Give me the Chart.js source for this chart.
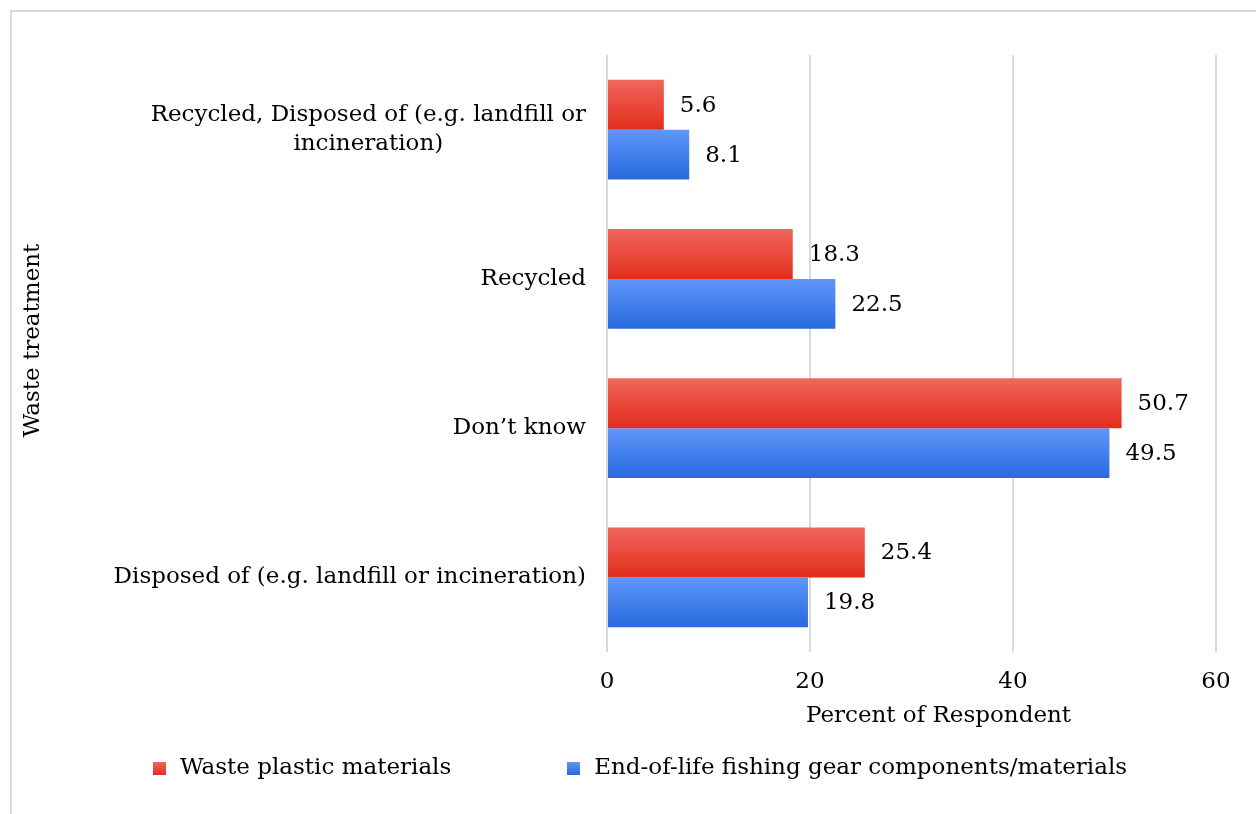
<!DOCTYPE html>
<html>
<head>
<meta charset="utf-8">
<script src="https://cdn.jsdelivr.net/npm/chart.js@4"></script>
<style>
  html, body { margin: 0; padding: 0; background: #ffffff; }
  #wrap { width: 1256px; height: 814px; position: relative; }
</style>
</head>
<body>
<div id="wrap"><canvas id="c" width="1256" height="814"></canvas></div>
<script>
// Survey categories (top to bottom) and the two series
const categories = [
  ["Recycled, Disposed of (e.g. landfill or", "incineration)"],
  ["Recycled"],
  ["Don\u2019t know"],
  ["Disposed of (e.g. landfill or incineration)"]
];
const seriesNames = ["Waste plastic materials", "End-of-life fishing gear components/materials"];
const wastePlastic = [5.6, 18.3, 50.7, 25.4];
const fishingGear = [8.1, 22.5, 49.5, 19.8];
const xTicks = [0, 20, 40, 60];
const xTitle = "Percent of Respondent";
const yTitle = "Waste treatment";

const FAMILY = '"DejaVu Serif", "Liberation Serif", serif';
const FONT_SIZE = 23;
const FONT = FONT_SIZE + 'px ' + FAMILY;
const TEXT = '#000000';
const GRID = '#d9d9d9';
const RED = ['#f0675d', '#e22d1c'];
const BLUE = ['#6096fa', '#276ade'];

function swatch(cols) {
  const cv = document.createElement('canvas');
  cv.width = 13; cv.height = 13;
  const g = cv.getContext('2d');
  const gr = g.createLinearGradient(0, 0, 0, 13);
  gr.addColorStop(0, cols[0]); gr.addColorStop(1, cols[1]);
  g.fillStyle = gr; g.fillRect(0, 0, 13, 13);
  return cv;
}

const decor = {
  id: 'decor',
  beforeDraw(chart) {
    const ctx = chart.ctx;
    ctx.save();
    ctx.strokeStyle = GRID;
    ctx.lineWidth = 2;
    ctx.strokeRect(11, 11, 1400, 1000);
    ctx.restore();
  },
  beforeDatasetsDraw(chart) {
    const ctx = chart.ctx;
    chart.data.datasets.forEach((ds, di) => {
      const meta = chart.getDatasetMeta(di);
      meta.data.forEach(el => {
        const t = el.y - el.height / 2, b = el.y + el.height / 2;
        const gr = ctx.createLinearGradient(0, t, 0, b);
        gr.addColorStop(0, ds.gradientStops[0]);
        gr.addColorStop(1, ds.gradientStops[1]);
        el.options.backgroundColor = gr;
      });
    });
  },
  afterDatasetsDraw(chart) {
    const ctx = chart.ctx;
    ctx.save();
    ctx.font = FONT;
    ctx.fillStyle = TEXT;
    ctx.textAlign = 'left';
    ctx.textBaseline = 'middle';
    chart.data.datasets.forEach((ds, di) => {
      const meta = chart.getDatasetMeta(di);
      meta.data.forEach((el, i) => {
        ctx.fillText(ds.data[i].toFixed(1), el.x + 16, el.y + 1);
      });
    });
    ctx.restore();
  },
  afterDraw(chart) {
    const ctx = chart.ctx;
    const area = chart.chartArea;
    const ys = chart.scales.y;
    ctx.save();
    ctx.font = FONT;
    ctx.fillStyle = TEXT;
    ctx.textBaseline = 'middle';

    // category labels: block right-aligned to the axis, lines centred within the block
    const lineH = 29;
    categories.forEach((lines, i) => {
      const cy = ys.getPixelForValue(i);
      const widths = lines.map(l => ctx.measureText(l).width);
      const blockW = Math.max(...widths);
      const right = area.left - 21;
      const mid = right - blockW / 2;
      ctx.textAlign = 'center';
      lines.forEach((l, k) => {
        const y = cy + (k - (lines.length - 1) / 2) * lineH;
        ctx.fillText(l, mid, y);
      });
    });

    // axis titles
    ctx.textAlign = 'center';
    ctx.fillText(xTitle, (area.left + area.right) / 2 + 27, area.bottom + 64);
    ctx.save();
    ctx.translate(33, (area.top + area.bottom) / 2 - 13);
    ctx.rotate(-Math.PI / 2);
    ctx.fillText(yTitle, 0, 0);
    ctx.restore();

    // legend
    const sq = 13, boxGap = 14, itemGap = 116;
    const widths = seriesNames.map(n => ctx.measureText(n).width);
    const total = widths.reduce((a, w) => a + sq + boxGap + w, 0) + itemGap;
    let x = 640 - total / 2;
    const ly = 768;
    ctx.textAlign = 'left';
    const swatches = [swatch(RED), swatch(BLUE)];
    seriesNames.forEach((n, i) => {
      ctx.drawImage(swatches[i], x, ly - 6);
      ctx.fillText(n, x + sq + boxGap, ly);
      x += sq + boxGap + widths[i] + itemGap;
    });
    ctx.restore();
  }
};

new Chart(document.getElementById('c'), {
  type: 'bar',
  data: {
    labels: categories,
    datasets: [
      { label: seriesNames[0], data: wastePlastic, gradientStops: RED, backgroundColor: () => RED[1] },
      { label: seriesNames[1], data: fishingGear, gradientStops: BLUE, backgroundColor: () => BLUE[1] }
    ]
  },
  options: {
    indexAxis: 'y',
    responsive: false,
    animation: false,
    events: [],
    categoryPercentage: 0.67,
    barPercentage: 1.0,
    layout: { padding: { top: 55, right: 40, left: 0, bottom: 0 } },
    plugins: { legend: { display: false }, tooltip: { enabled: false } },
    scales: {
      x: {
        min: xTicks[0],
        max: xTicks[xTicks.length - 1],
        afterBuildTicks(scale) { scale.ticks = xTicks.map(v => ({ value: v })); },
        afterFit(scale) { scale.height = 162; },
        grid: { color: GRID, lineWidth: 2, drawTicks: false },
        border: { display: false },
        ticks: { color: TEXT, font: { family: FAMILY, size: FONT_SIZE }, padding: 16 }
      },
      y: {
        afterFit(scale) { scale.width = 607; },
        grid: { display: false, drawTicks: false },
        border: { display: false },
        ticks: { display: false }
      }
    }
  },
  plugins: [decor]
});
</script>
</body>
</html>
